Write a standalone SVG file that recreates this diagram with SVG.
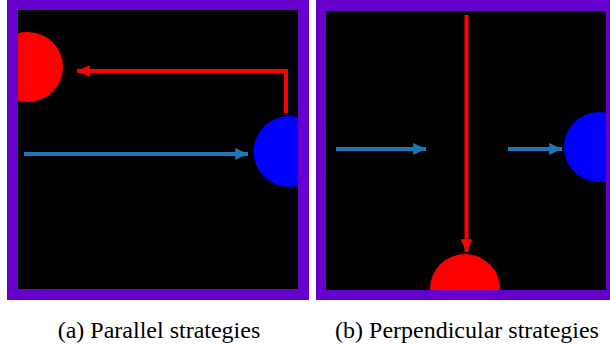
<svg xmlns="http://www.w3.org/2000/svg" width="610" height="347" viewBox="0 0 610 347">
<style>
.frame{fill:#6600cc}
.field{fill:#000}
.red{fill:#ff0000}
.blue{fill:#0000ff}
.ra{stroke:#ff0000;stroke-width:4;fill:none}
.ba{stroke:#1f77b4;stroke-width:4;fill:none}
.cap{fill:#000;text-anchor:middle}
</style>
<defs>
<clipPath id="ca"><rect x="18" y="10" width="280" height="279"/></clipPath>
<clipPath id="cb"><rect x="326" y="11" width="280" height="279"/></clipPath>
<marker id="mr" markerWidth="4" markerHeight="4" refX="3.2" refY="2" orient="auto" markerUnits="strokeWidth"><path d="M0,0.5 L3.2,2 L0,3.5 Z" fill="#ff0000"/></marker>
<marker id="mb" markerWidth="4" markerHeight="4" refX="3.2" refY="2" orient="auto" markerUnits="strokeWidth"><path d="M0,0.5 L3.2,2 L0,3.5 Z" fill="#1f77b4"/></marker>
</defs>
<rect width="610" height="347" fill="#fff"/>
<g id="panel-a">
<rect class="frame" x="7" y="0" width="302" height="300"/>
<rect class="field" x="18" y="10" width="280" height="279"/>
<g clip-path="url(#ca)">
<circle id="a-red" class="red" cx="28" cy="67" r="35"/>
<circle id="a-blue" class="blue" cx="289" cy="151.5" r="35.5"/>
</g>
</g>
<g id="panel-b">
<rect class="frame" x="316" y="0" width="294" height="300"/>
<rect class="field" x="326" y="11" width="280" height="279"/>
<g clip-path="url(#cb)">
<circle id="b-red" class="red" cx="465" cy="289" r="35"/>
<circle id="b-blue" class="blue" cx="599" cy="147" r="35"/>
</g>
</g>
<g id="connectors">
<path class="ra" d="M286,113 V71 H77" marker-end="url(#mr)"/>
<path class="ba" d="M24,154 H248" marker-end="url(#mb)"/>
<path class="ra" d="M466.5,15 V252" marker-end="url(#mr)"/>
<path class="ba" d="M336,149 H426" marker-end="url(#mb)"/>
<path class="ba" d="M508,149 H562" marker-end="url(#mb)"/>
</g>
<text class="cap" x="159" y="338" font-family="'Liberation Serif', 'Times New Roman', serif" font-size="24">(a) Parallel strategies</text>
<text class="cap" x="467" y="338" font-family="'Liberation Serif', 'Times New Roman', serif" font-size="24">(b) Perpendicular strategies</text>
</svg>
